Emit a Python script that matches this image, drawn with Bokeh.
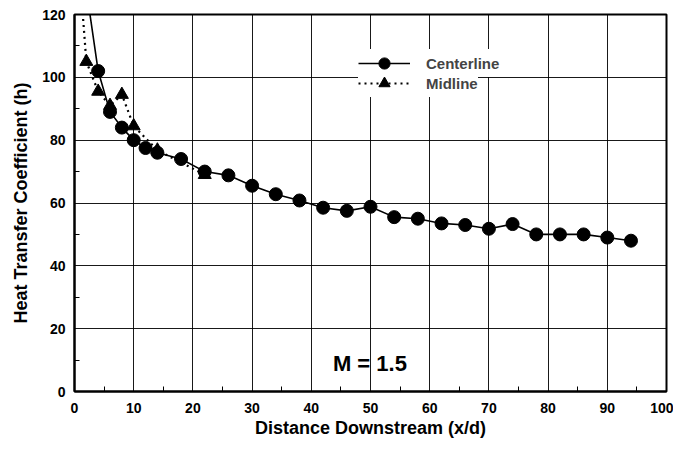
from bokeh.plotting import figure
from bokeh.models import Range1d, FixedTicker, Legend, LegendItem, Label
from bokeh.embed import file_html
from bokeh.resources import INLINE

# Data
cl_x = [2, 4, 6, 8, 10, 12, 14, 18, 22, 26, 30, 34, 38, 42, 46, 50, 54, 58, 62, 66, 70, 74, 78, 82, 86, 90, 94]
cl_y = [128, 102, 89, 84, 80, 77.5, 76, 74, 70, 68.8, 65.5, 62.8, 60.8, 58.5, 57.5, 58.8, 55.5, 55, 53.5, 53, 51.8, 53.3, 50, 50, 50, 49, 48]
mid_x = [1, 2, 4, 6, 8, 10, 14, 22]
mid_y = [130, 105, 95.5, 91, 94.5, 84.5, 76.8, 69]
x_ticks = [0, 10, 20, 30, 40, 50, 60, 70, 80, 90, 100]
x_minor = [5, 15, 25, 35, 45, 55, 65, 75, 85, 95]
y_ticks = [0, 20, 40, 60, 80, 100, 120]
y_minor = [10, 30, 50, 70, 90, 110]

FONT = "Liberation Sans"

p = figure(width=673, height=441, output_backend="svg", toolbar_location=None,
           x_range=Range1d(0, 100), y_range=Range1d(0, 120),
           min_border_left=74, min_border_right=7, min_border_top=14, min_border_bottom=50)
p.background_fill_color = "white"
p.border_fill_color = "white"
p.outline_line_color = "black"
p.outline_line_width = 2

p.xaxis.ticker = FixedTicker(ticks=x_ticks, minor_ticks=x_minor)
p.yaxis.ticker = FixedTicker(ticks=y_ticks, minor_ticks=y_minor)
for ax in (p.xaxis[0], p.yaxis[0]):
    ax.axis_line_color = "black"
    ax.axis_line_width = 2
    ax.major_tick_in = 0
    ax.major_tick_out = 0
    ax.minor_tick_in = 5
    ax.minor_tick_out = 0
    ax.minor_tick_line_color = "black"
    ax.major_label_text_font = FONT
    ax.major_label_text_font_style = "bold"
    ax.major_label_text_font_size = "14px"
    ax.major_label_text_color = "black"
    ax.axis_label_text_font = FONT
    ax.axis_label_text_font_style = "bold"
    ax.axis_label_text_font_size = "18px"
    ax.axis_label_text_color = "black"

p.xaxis.axis_label = "Distance Downstream (x/d)"
p.yaxis.axis_label = "Heat Transfer Coefficient (h)"
p.xaxis.major_label_standoff = 11
p.xaxis.axis_label_standoff = 2
p.yaxis.major_label_standoff = 9
p.yaxis.axis_label_standoff = 8

p.xgrid.grid_line_color = "black"
p.ygrid.grid_line_color = "black"
p.xgrid.grid_line_width = 1
p.ygrid.grid_line_width = 1
p.xgrid.grid_line_alpha = 0.9
p.ygrid.grid_line_alpha = 0.9

cl_line = p.line(cl_x, cl_y, line_color="black", line_width=1.6)
cl_pts = p.scatter(cl_x, cl_y, marker="circle", size=13, fill_color="black", line_color="black")
mid_line = p.line(mid_x, mid_y, line_color="black", line_width=2.2, line_dash="dotted")
mid_pts = p.scatter(mid_x, mid_y, marker="triangle", size=13, fill_color="black", line_color="black")

common = dict(glyph_width=52, glyph_height=28, label_height=28, spacing=0, label_standoff=16,
              label_text_font=FONT, label_text_font_style="bold", label_text_font_size="15px",
              border_line_color=None, background_fill_color="white", background_fill_alpha=1.0)
legend_mid = Legend(items=[LegendItem(label="Midline", renderers=[mid_line, mid_pts])],
                    location=(284, 294), padding=8, **common)
legend_cl = Legend(items=[LegendItem(label="Centerline", renderers=[cl_line, cl_pts])],
                   location=(284, 314), padding=0, **common)
p.add_layout(legend_mid)
p.add_layout(legend_cl)

p.add_layout(Label(x=49.9, y=8.8, text="M = 1.5", text_align="center", text_baseline="middle",
                   text_font=FONT, text_font_style="bold", text_font_size="22px", text_color="black"))

open("out.html", "w").write(file_html(p, INLINE))
